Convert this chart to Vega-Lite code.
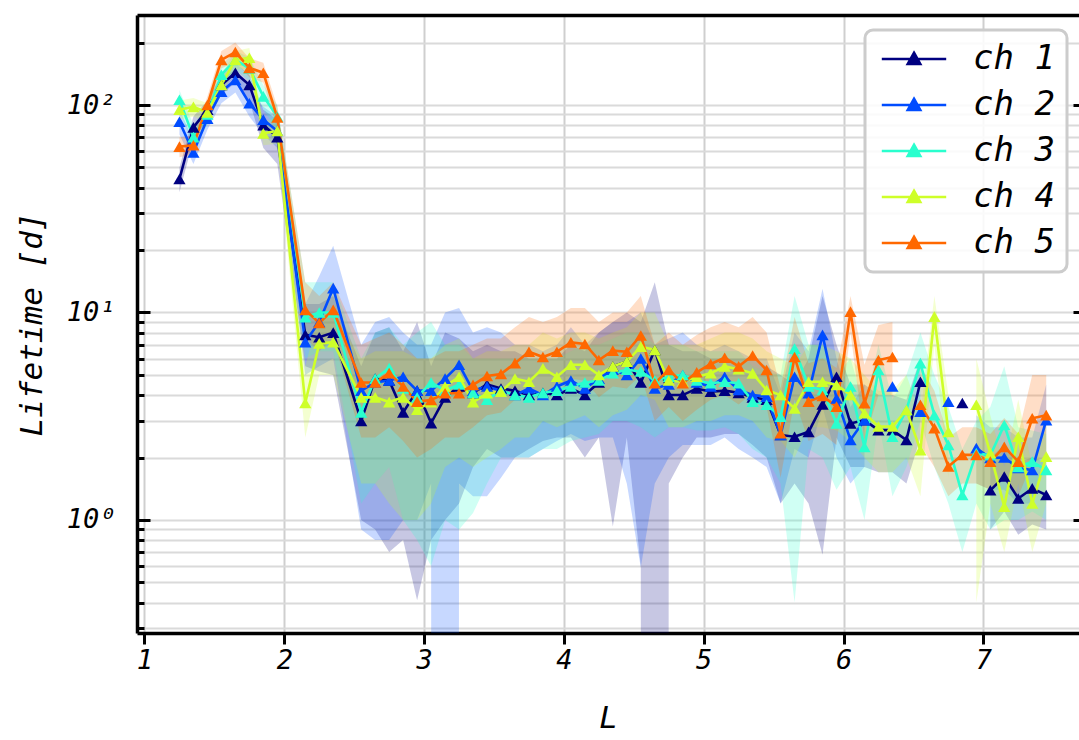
{
"$schema":"https://vega.github.io/schema/vega-lite/v6.json",
"width":942,"height":618,"autosize":"none",
"padding":{"left":137,"top":15,"right":0,"bottom":107},
"config":{"view":{"stroke":null},"font":"DejaVu Sans Mono",
"legend":{"orient":"none","legendX":728,"legendY":15,"title":null,"symbolType":"M-2.3,0L2.3,0M0,-0.45L0.45,0.35L-0.45,0.35Z","symbolSize":784,"symbolStrokeWidth":2.5,"symbolOpacity":1,"labelFont":"DejaVu Sans Mono","labelFontStyle":"italic","labelFontSize":34,"labelColor":"black","labelOffset":42,"symbolOffset":20,"padding":12,"rowPadding":12,"strokeColor":"#cccccc","strokeWidth":3,"cornerRadius":8,"fillColor":"rgba(255,255,255,0.85)"}},
"data":{"values":[
{"ch":"ch 1","L":1.25,"v":44,"lo":38,"hi":50},{"ch":"ch 1","L":1.35,"v":78,"lo":68,"hi":88},{"ch":"ch 1","L":1.45,"v":95,"lo":85,"hi":105},{"ch":"ch 1","L":1.55,"v":125,"lo":112,"hi":140},{"ch":"ch 1","L":1.65,"v":143,"lo":128,"hi":160},{"ch":"ch 1","L":1.75,"v":125,"lo":105,"hi":140},{"ch":"ch 1","L":1.85,"v":80,"lo":62,"hi":95},{"ch":"ch 1","L":1.95,"v":70,"lo":52,"hi":85},
{"ch":"ch 1","L":2.15,"v":7.8,"lo":5.5,"hi":11},{"ch":"ch 1","L":2.25,"v":7.6,"lo":5.2,"hi":11},{"ch":"ch 1","L":2.35,"v":8.0,"lo":5.0,"hi":12},{"ch":"ch 1","L":2.55,"v":3.0,"lo":1.0,"hi":5.5},{"ch":"ch 1","L":2.65,"v":4.8,"lo":0.9,"hi":8},{"ch":"ch 1","L":2.75,"v":4.7,"lo":0.7,"hi":8.5},{"ch":"ch 1","L":2.85,"v":3.3,"lo":0.8,"hi":6.5},{"ch":"ch 1","L":2.95,"v":4.2,"lo":0.41,"hi":9},{"ch":"ch 1","L":3.05,"v":2.93,"lo":0.8,"hi":5.5},{"ch":"ch 1","L":3.15,"v":3.9,"lo":1.0,"hi":8},{"ch":"ch 1","L":3.25,"v":4.4,"lo":1.2,"hi":7.5},{"ch":"ch 1","L":3.35,"v":4.1,"lo":1.8,"hi":6.5},{"ch":"ch 1","L":3.45,"v":4.5,"lo":2.2,"hi":7},{"ch":"ch 1","L":3.55,"v":4.3,"lo":2.0,"hi":6.5},{"ch":"ch 1","L":3.65,"v":4.2,"lo":2.0,"hi":6.5},{"ch":"ch 1","L":3.75,"v":4.0,"lo":2.2,"hi":6},{"ch":"ch 1","L":3.85,"v":4.1,"lo":2.4,"hi":6},{"ch":"ch 1","L":3.95,"v":4.0,"lo":2.5,"hi":6},{"ch":"ch 1","L":4.05,"v":4.3,"lo":2.5,"hi":7},{"ch":"ch 1","L":4.15,"v":4.0,"lo":2.0,"hi":6.5},{"ch":"ch 1","L":4.25,"v":4.6,"lo":2.5,"hi":8},{"ch":"ch 1","L":4.35,"v":5.5,"lo":0.93,"hi":9},{"ch":"ch 1","L":4.45,"v":5.8,"lo":2.5,"hi":10},{"ch":"ch 1","L":4.55,"v":4.6,"lo":0.6,"hi":9},{"ch":"ch 1","L":4.65,"v":6.6,"lo":1e-100,"hi":14},{"ch":"ch 1","L":4.75,"v":4.0,"lo":1.5,"hi":7},{"ch":"ch 1","L":4.85,"v":4.0,"lo":2.0,"hi":6.5},{"ch":"ch 1","L":4.95,"v":4.3,"lo":2.5,"hi":6.5},{"ch":"ch 1","L":5.05,"v":4.15,"lo":2.5,"hi":6},{"ch":"ch 1","L":5.15,"v":4.2,"lo":2.6,"hi":6},{"ch":"ch 1","L":5.25,"v":4.1,"lo":2.6,"hi":6},{"ch":"ch 1","L":5.35,"v":3.9,"lo":2.3,"hi":6},{"ch":"ch 1","L":5.45,"v":3.8,"lo":2.0,"hi":5.5},{"ch":"ch 1","L":5.55,"v":2.57,"lo":1.2,"hi":5},{"ch":"ch 1","L":5.65,"v":2.52,"lo":1.5,"hi":4.5},{"ch":"ch 1","L":5.75,"v":2.66,"lo":1.2,"hi":6},{"ch":"ch 1","L":5.85,"v":3.6,"lo":0.68,"hi":12},{"ch":"ch 1","L":5.95,"v":4.9,"lo":2.5,"hi":7},{"ch":"ch 1","L":6.05,"v":2.92,"lo":1.8,"hi":4.5},{"ch":"ch 1","L":6.15,"v":3.03,"lo":1.8,"hi":4.5},{"ch":"ch 1","L":6.25,"v":2.71,"lo":1.7,"hi":4},{"ch":"ch 1","L":6.35,"v":2.71,"lo":1.7,"hi":4},{"ch":"ch 1","L":6.45,"v":2.43,"lo":1.5,"hi":3.8},{"ch":"ch 1","L":6.55,"v":4.64,"lo":2.5,"hi":6},{"ch":"ch 1","L":6.65,"v":null,"lo":null,"hi":null},{"ch":"ch 1","L":6.75,"v":null,"lo":null,"hi":null},{"ch":"ch 1","L":6.85,"v":3.66,"lo":null,"hi":null},{"ch":"ch 1","L":6.95,"v":null,"lo":null,"hi":null},{"ch":"ch 1","L":7.05,"v":1.39,"lo":0.9,"hi":2},{"ch":"ch 1","L":7.15,"v":1.62,"lo":1.1,"hi":2.3},{"ch":"ch 1","L":7.25,"v":1.27,"lo":0.85,"hi":1.9},{"ch":"ch 1","L":7.35,"v":1.42,"lo":0.95,"hi":2.0},{"ch":"ch 1","L":7.45,"v":1.32,"lo":0.9,"hi":1.9},
{"ch":"ch 2","L":1.25,"v":83,"lo":72,"hi":95},{"ch":"ch 2","L":1.35,"v":59,"lo":52,"hi":68},{"ch":"ch 2","L":1.45,"v":86,"lo":76,"hi":98},{"ch":"ch 2","L":1.55,"v":116,"lo":102,"hi":130},{"ch":"ch 2","L":1.65,"v":132,"lo":115,"hi":150},{"ch":"ch 2","L":1.75,"v":102,"lo":88,"hi":118},{"ch":"ch 2","L":1.85,"v":85,"lo":72,"hi":98},{"ch":"ch 2","L":1.95,"v":75,"lo":62,"hi":88},
{"ch":"ch 2","L":2.15,"v":7.2,"lo":5,"hi":11},{"ch":"ch 2","L":2.25,"v":9.0,"lo":5.5,"hi":15},{"ch":"ch 2","L":2.35,"v":13.1,"lo":6,"hi":21},{"ch":"ch 2","L":2.55,"v":4.2,"lo":0.9,"hi":7},{"ch":"ch 2","L":2.65,"v":4.6,"lo":0.8,"hi":9},{"ch":"ch 2","L":2.75,"v":4.7,"lo":0.8,"hi":9.5},{"ch":"ch 2","L":2.85,"v":4.9,"lo":1.0,"hi":8},{"ch":"ch 2","L":2.95,"v":4.2,"lo":1.0,"hi":7},{"ch":"ch 2","L":3.05,"v":4.2,"lo":1.5,"hi":7},{"ch":"ch 2","L":3.15,"v":4.8,"lo":1e-100,"hi":10},{"ch":"ch 2","L":3.25,"v":5.6,"lo":1.5,"hi":10.5},{"ch":"ch 2","L":3.35,"v":4.2,"lo":1.3,"hi":8},{"ch":"ch 2","L":3.45,"v":4.4,"lo":1.3,"hi":8.5},{"ch":"ch 2","L":3.55,"v":4.2,"lo":1.6,"hi":8},{"ch":"ch 2","L":3.65,"v":4.0,"lo":2.0,"hi":7},{"ch":"ch 2","L":3.75,"v":4.3,"lo":2.0,"hi":7},{"ch":"ch 2","L":3.85,"v":4.0,"lo":2.2,"hi":6.5},{"ch":"ch 2","L":3.95,"v":4.4,"lo":2.4,"hi":7},{"ch":"ch 2","L":4.05,"v":4.7,"lo":2.6,"hi":8.5},{"ch":"ch 2","L":4.15,"v":4.3,"lo":2.4,"hi":7},{"ch":"ch 2","L":4.25,"v":4.8,"lo":2.5,"hi":8},{"ch":"ch 2","L":4.35,"v":5.3,"lo":2.5,"hi":9},{"ch":"ch 2","L":4.45,"v":5.0,"lo":1.5,"hi":9},{"ch":"ch 2","L":4.55,"v":6.0,"lo":0.59,"hi":10},{"ch":"ch 2","L":4.65,"v":4.3,"lo":1.5,"hi":7},{"ch":"ch 2","L":4.75,"v":4.5,"lo":2.0,"hi":7.5},{"ch":"ch 2","L":4.85,"v":5.0,"lo":2.3,"hi":8},{"ch":"ch 2","L":4.95,"v":4.6,"lo":2.3,"hi":7},{"ch":"ch 2","L":5.05,"v":4.4,"lo":2.3,"hi":6.5},{"ch":"ch 2","L":5.15,"v":4.9,"lo":2.5,"hi":7},{"ch":"ch 2","L":5.25,"v":4.23,"lo":2.2,"hi":6.5},{"ch":"ch 2","L":5.35,"v":4.0,"lo":2.0,"hi":6},{"ch":"ch 2","L":5.45,"v":3.93,"lo":1.8,"hi":6},{"ch":"ch 2","L":5.55,"v":2.57,"lo":1.2,"hi":4},{"ch":"ch 2","L":5.65,"v":4.9,"lo":2.2,"hi":8},{"ch":"ch 2","L":5.75,"v":4.08,"lo":2.0,"hi":6.5},{"ch":"ch 2","L":5.85,"v":7.8,"lo":3.5,"hi":13},{"ch":"ch 2","L":5.95,"v":3.85,"lo":2.0,"hi":6},{"ch":"ch 2","L":6.05,"v":2.43,"lo":1.5,"hi":3.5},{"ch":"ch 2","L":6.15,"v":3.03,"lo":1.8,"hi":4.5},{"ch":"ch 2","L":6.25,"v":null,"lo":null,"hi":null},{"ch":"ch 2","L":6.35,"v":4.4,"lo":null,"hi":null},{"ch":"ch 2","L":6.45,"v":null,"lo":null,"hi":null},{"ch":"ch 2","L":6.55,"v":3.33,"lo":null,"hi":null},{"ch":"ch 2","L":6.65,"v":null,"lo":null,"hi":null},{"ch":"ch 2","L":6.75,"v":3.72,"lo":null,"hi":null},{"ch":"ch 2","L":6.85,"v":null,"lo":null,"hi":null},{"ch":"ch 2","L":6.95,"v":2.22,"lo":1.5,"hi":3.2},{"ch":"ch 2","L":7.05,"v":1.99,"lo":1.4,"hi":2.8},{"ch":"ch 2","L":7.15,"v":2.0,"lo":1.4,"hi":2.8},{"ch":"ch 2","L":7.25,"v":1.78,"lo":1.2,"hi":2.5},{"ch":"ch 2","L":7.35,"v":1.74,"lo":1.2,"hi":2.5},{"ch":"ch 2","L":7.45,"v":3.03,"lo":2.0,"hi":4.5},
{"ch":"ch 3","L":1.25,"v":106,"lo":95,"hi":118},{"ch":"ch 3","L":1.35,"v":70,"lo":62,"hi":80},{"ch":"ch 3","L":1.45,"v":90,"lo":80,"hi":100},{"ch":"ch 3","L":1.55,"v":140,"lo":125,"hi":155},{"ch":"ch 3","L":1.65,"v":165,"lo":148,"hi":182},{"ch":"ch 3","L":1.75,"v":150,"lo":130,"hi":170},{"ch":"ch 3","L":1.85,"v":110,"lo":95,"hi":125},{"ch":"ch 3","L":1.95,"v":88,"lo":75,"hi":100},
{"ch":"ch 3","L":2.15,"v":9.5,"lo":6,"hi":14},{"ch":"ch 3","L":2.25,"v":10,"lo":6.5,"hi":14},{"ch":"ch 3","L":2.35,"v":10,"lo":6.5,"hi":14},{"ch":"ch 3","L":2.55,"v":3.3,"lo":1.2,"hi":6},{"ch":"ch 3","L":2.65,"v":4.8,"lo":1.5,"hi":8},{"ch":"ch 3","L":2.75,"v":5.4,"lo":1.8,"hi":8.5},{"ch":"ch 3","L":2.85,"v":4.3,"lo":1.0,"hi":7},{"ch":"ch 3","L":2.95,"v":3.9,"lo":0.8,"hi":8},{"ch":"ch 3","L":3.05,"v":4.6,"lo":0.6,"hi":9},{"ch":"ch 3","L":3.15,"v":4.2,"lo":1.0,"hi":7},{"ch":"ch 3","L":3.25,"v":4.5,"lo":0.9,"hi":7},{"ch":"ch 3","L":3.35,"v":4.1,"lo":1.08,"hi":6},{"ch":"ch 3","L":3.45,"v":3.8,"lo":1.5,"hi":6},{"ch":"ch 3","L":3.55,"v":4.2,"lo":2.0,"hi":6},{"ch":"ch 3","L":3.65,"v":4.0,"lo":2.0,"hi":6},{"ch":"ch 3","L":3.75,"v":3.9,"lo":2.0,"hi":6},{"ch":"ch 3","L":3.85,"v":4.1,"lo":2.2,"hi":6},{"ch":"ch 3","L":3.95,"v":4.2,"lo":2.2,"hi":6},{"ch":"ch 3","L":4.05,"v":4.4,"lo":2.4,"hi":6.5},{"ch":"ch 3","L":4.15,"v":4.6,"lo":2.5,"hi":7},{"ch":"ch 3","L":4.25,"v":4.7,"lo":2.6,"hi":7},{"ch":"ch 3","L":4.35,"v":5.1,"lo":3.0,"hi":7.5},{"ch":"ch 3","L":4.45,"v":5.3,"lo":3.0,"hi":8},{"ch":"ch 3","L":4.55,"v":5.2,"lo":2.8,"hi":8},{"ch":"ch 3","L":4.65,"v":4.7,"lo":2.5,"hi":7},{"ch":"ch 3","L":4.75,"v":4.9,"lo":2.8,"hi":7},{"ch":"ch 3","L":4.85,"v":5.0,"lo":2.8,"hi":7},{"ch":"ch 3","L":4.95,"v":4.7,"lo":2.7,"hi":6.5},{"ch":"ch 3","L":5.05,"v":4.56,"lo":2.7,"hi":6.5},{"ch":"ch 3","L":5.15,"v":4.64,"lo":2.8,"hi":6.5},{"ch":"ch 3","L":5.25,"v":4.56,"lo":2.6,"hi":6.5},{"ch":"ch 3","L":5.35,"v":3.72,"lo":2.2,"hi":5.5},{"ch":"ch 3","L":5.45,"v":3.59,"lo":2.0,"hi":5.2},{"ch":"ch 3","L":5.55,"v":3.15,"lo":1.5,"hi":5},{"ch":"ch 3","L":5.65,"v":6.7,"lo":0.4,"hi":12},{"ch":"ch 3","L":5.75,"v":4.4,"lo":2.2,"hi":7},{"ch":"ch 3","L":5.85,"v":4.23,"lo":2.0,"hi":7},{"ch":"ch 3","L":5.95,"v":2.92,"lo":1.4,"hi":5},{"ch":"ch 3","L":6.05,"v":4.4,"lo":1.8,"hi":6},{"ch":"ch 3","L":6.15,"v":2.25,"lo":1.0,"hi":3.5},{"ch":"ch 3","L":6.25,"v":5.28,"lo":3.0,"hi":7},{"ch":"ch 3","L":6.35,"v":2.52,"lo":1.3,"hi":3.8},{"ch":"ch 3","L":6.45,"v":3.39,"lo":1.8,"hi":5},{"ch":"ch 3","L":6.55,"v":5.7,"lo":3.0,"hi":8},{"ch":"ch 3","L":6.65,"v":3.2,"lo":1.8,"hi":5},{"ch":"ch 3","L":6.75,"v":2.3,"lo":1.2,"hi":3.5},{"ch":"ch 3","L":6.85,"v":1.32,"lo":0.7,"hi":2.2},{"ch":"ch 3","L":6.95,"v":2.1,"lo":1.2,"hi":3.0},{"ch":"ch 3","L":7.05,"v":2.05,"lo":0.9,"hi":3.5},{"ch":"ch 3","L":7.15,"v":2.87,"lo":1.0,"hi":5.5},{"ch":"ch 3","L":7.25,"v":1.8,"lo":1.0,"hi":2.8},{"ch":"ch 3","L":7.35,"v":1.91,"lo":1.1,"hi":2.7},{"ch":"ch 3","L":7.45,"v":1.74,"lo":1.0,"hi":2.6},
{"ch":"ch 4","L":1.25,"v":95,"lo":85,"hi":105},{"ch":"ch 4","L":1.35,"v":98,"lo":88,"hi":108},{"ch":"ch 4","L":1.45,"v":92,"lo":82,"hi":102},{"ch":"ch 4","L":1.55,"v":125,"lo":112,"hi":140},{"ch":"ch 4","L":1.65,"v":165,"lo":148,"hi":182},{"ch":"ch 4","L":1.75,"v":169,"lo":150,"hi":188},{"ch":"ch 4","L":1.85,"v":73,"lo":64,"hi":84},{"ch":"ch 4","L":1.95,"v":75,"lo":65,"hi":86},
{"ch":"ch 4","L":2.15,"v":3.66,"lo":2.5,"hi":5.5},{"ch":"ch 4","L":2.25,"v":7.1,"lo":5,"hi":10},{"ch":"ch 4","L":2.35,"v":7.2,"lo":5,"hi":10},{"ch":"ch 4","L":2.55,"v":3.9,"lo":1.5,"hi":6},{"ch":"ch 4","L":2.65,"v":3.9,"lo":1.5,"hi":6.5},{"ch":"ch 4","L":2.75,"v":3.7,"lo":1.2,"hi":6.5},{"ch":"ch 4","L":2.85,"v":3.9,"lo":1.0,"hi":6.5},{"ch":"ch 4","L":2.95,"v":3.4,"lo":1.0,"hi":6},{"ch":"ch 4","L":3.05,"v":3.7,"lo":1.2,"hi":6},{"ch":"ch 4","L":3.15,"v":4.4,"lo":1.8,"hi":7},{"ch":"ch 4","L":3.25,"v":4.9,"lo":2.0,"hi":7.5},{"ch":"ch 4","L":3.35,"v":3.7,"lo":1.8,"hi":6},{"ch":"ch 4","L":3.45,"v":4.08,"lo":2.0,"hi":6.5},{"ch":"ch 4","L":3.55,"v":4.15,"lo":2.2,"hi":6.5},{"ch":"ch 4","L":3.65,"v":4.8,"lo":2.5,"hi":7},{"ch":"ch 4","L":3.75,"v":4.64,"lo":2.5,"hi":7},{"ch":"ch 4","L":3.85,"v":5.38,"lo":3.0,"hi":8},{"ch":"ch 4","L":3.95,"v":4.9,"lo":2.8,"hi":7.5},{"ch":"ch 4","L":4.05,"v":5.6,"lo":3.0,"hi":8},{"ch":"ch 4","L":4.15,"v":5.6,"lo":3.2,"hi":8},{"ch":"ch 4","L":4.25,"v":5.0,"lo":2.8,"hi":7.5},{"ch":"ch 4","L":4.35,"v":5.5,"lo":3.2,"hi":8},{"ch":"ch 4","L":4.45,"v":5.8,"lo":3.4,"hi":8.5},{"ch":"ch 4","L":4.55,"v":6.85,"lo":4.0,"hi":10},{"ch":"ch 4","L":4.65,"v":6.6,"lo":3.8,"hi":10},{"ch":"ch 4","L":4.75,"v":4.7,"lo":2.8,"hi":7},{"ch":"ch 4","L":4.85,"v":4.64,"lo":2.8,"hi":7},{"ch":"ch 4","L":4.95,"v":4.9,"lo":3.0,"hi":7},{"ch":"ch 4","L":5.05,"v":5.1,"lo":3.0,"hi":7.5},{"ch":"ch 4","L":5.15,"v":5.5,"lo":3.2,"hi":8},{"ch":"ch 4","L":5.25,"v":5.33,"lo":3.2,"hi":8},{"ch":"ch 4","L":5.35,"v":5.09,"lo":3.0,"hi":7.5},{"ch":"ch 4","L":5.45,"v":4.23,"lo":2.5,"hi":6.5},{"ch":"ch 4","L":5.55,"v":4.0,"lo":2.4,"hi":6},{"ch":"ch 4","L":5.65,"v":3.45,"lo":2.0,"hi":5.5},{"ch":"ch 4","L":5.75,"v":4.64,"lo":2.8,"hi":7},{"ch":"ch 4","L":5.85,"v":4.64,"lo":2.8,"hi":7},{"ch":"ch 4","L":5.95,"v":4.47,"lo":2.7,"hi":6.5},{"ch":"ch 4","L":6.05,"v":4.0,"lo":2.4,"hi":6},{"ch":"ch 4","L":6.15,"v":3.27,"lo":2.0,"hi":5},{"ch":"ch 4","L":6.25,"v":2.82,"lo":1.7,"hi":4.2},{"ch":"ch 4","L":6.35,"v":2.82,"lo":1.7,"hi":4.2},{"ch":"ch 4","L":6.45,"v":3.39,"lo":2.0,"hi":5},{"ch":"ch 4","L":6.55,"v":2.17,"lo":1.3,"hi":3.2},{"ch":"ch 4","L":6.65,"v":9.55,"lo":7,"hi":12},{"ch":"ch 4","L":6.75,"v":2.66,"lo":1.6,"hi":4},{"ch":"ch 4","L":6.85,"v":null,"lo":null,"hi":null},{"ch":"ch 4","L":6.95,"v":3.59,"lo":0.4,"hi":6},{"ch":"ch 4","L":7.05,"v":2.1,"lo":1.2,"hi":3.2},{"ch":"ch 4","L":7.15,"v":1.16,"lo":0.7,"hi":1.8},{"ch":"ch 4","L":7.25,"v":2.52,"lo":1.5,"hi":3.8},{"ch":"ch 4","L":7.35,"v":1.2,"lo":0.7,"hi":1.8},{"ch":"ch 4","L":7.45,"v":2.02,"lo":1.2,"hi":3},
{"ch":"ch 5","L":1.25,"v":63,"lo":56,"hi":70},{"ch":"ch 5","L":1.35,"v":64,"lo":58,"hi":71},{"ch":"ch 5","L":1.45,"v":100,"lo":90,"hi":110},{"ch":"ch 5","L":1.55,"v":165,"lo":150,"hi":182},{"ch":"ch 5","L":1.65,"v":180,"lo":162,"hi":200},{"ch":"ch 5","L":1.75,"v":151,"lo":136,"hi":168},{"ch":"ch 5","L":1.85,"v":143,"lo":128,"hi":160},{"ch":"ch 5","L":1.95,"v":87,"lo":76,"hi":98},
{"ch":"ch 5","L":2.15,"v":10.3,"lo":7.5,"hi":14},{"ch":"ch 5","L":2.25,"v":8.9,"lo":6.5,"hi":12},{"ch":"ch 5","L":2.35,"v":10.3,"lo":7.5,"hi":14},{"ch":"ch 5","L":2.55,"v":4.6,"lo":2.5,"hi":7},{"ch":"ch 5","L":2.65,"v":4.6,"lo":2.5,"hi":7.5},{"ch":"ch 5","L":2.75,"v":5.1,"lo":2.8,"hi":8},{"ch":"ch 5","L":2.85,"v":4.4,"lo":2.4,"hi":7},{"ch":"ch 5","L":2.95,"v":3.72,"lo":2.0,"hi":6},{"ch":"ch 5","L":3.05,"v":3.79,"lo":2.2,"hi":6},{"ch":"ch 5","L":3.15,"v":4.08,"lo":2.5,"hi":6.5},{"ch":"ch 5","L":3.25,"v":4.08,"lo":2.5,"hi":6.5},{"ch":"ch 5","L":3.35,"v":4.48,"lo":2.8,"hi":7},{"ch":"ch 5","L":3.45,"v":4.94,"lo":3.2,"hi":7.5},{"ch":"ch 5","L":3.55,"v":5.05,"lo":3.3,"hi":7.5},{"ch":"ch 5","L":3.65,"v":5.7,"lo":3.8,"hi":8.5},{"ch":"ch 5","L":3.75,"v":6.47,"lo":4.3,"hi":9.5},{"ch":"ch 5","L":3.85,"v":6.1,"lo":4.0,"hi":9},{"ch":"ch 5","L":3.95,"v":6.47,"lo":4.3,"hi":9.5},{"ch":"ch 5","L":4.05,"v":7.18,"lo":4.8,"hi":10.5},{"ch":"ch 5","L":4.15,"v":7.05,"lo":4.7,"hi":10.5},{"ch":"ch 5","L":4.25,"v":5.9,"lo":3.9,"hi":9},{"ch":"ch 5","L":4.35,"v":6.55,"lo":4.4,"hi":10},{"ch":"ch 5","L":4.45,"v":6.47,"lo":4.3,"hi":10},{"ch":"ch 5","L":4.55,"v":7.75,"lo":5.0,"hi":12},{"ch":"ch 5","L":4.65,"v":4.56,"lo":3.0,"hi":7},{"ch":"ch 5","L":4.75,"v":5.29,"lo":3.5,"hi":8},{"ch":"ch 5","L":4.85,"v":4.56,"lo":3.0,"hi":7},{"ch":"ch 5","L":4.95,"v":5.15,"lo":3.4,"hi":7.8},{"ch":"ch 5","L":5.05,"v":5.65,"lo":3.8,"hi":8.5},{"ch":"ch 5","L":5.15,"v":6.05,"lo":4.0,"hi":9},{"ch":"ch 5","L":5.25,"v":5.5,"lo":3.6,"hi":8.5},{"ch":"ch 5","L":5.35,"v":6.2,"lo":4.1,"hi":9.5},{"ch":"ch 5","L":5.45,"v":5.28,"lo":3.5,"hi":8},{"ch":"ch 5","L":5.55,"v":2.62,"lo":1.6,"hi":4.3},{"ch":"ch 5","L":5.65,"v":6.1,"lo":3.8,"hi":9.5},{"ch":"ch 5","L":5.75,"v":3.72,"lo":2.4,"hi":5.7},{"ch":"ch 5","L":5.85,"v":3.96,"lo":2.6,"hi":6},{"ch":"ch 5","L":5.95,"v":3.52,"lo":2.3,"hi":5.4},{"ch":"ch 5","L":6.05,"v":10.1,"lo":8,"hi":12},{"ch":"ch 5","L":6.15,"v":3.65,"lo":2.4,"hi":5.6},{"ch":"ch 5","L":6.25,"v":5.9,"lo":4.0,"hi":8.7},{"ch":"ch 5","L":6.35,"v":6.1,"lo":4.0,"hi":9},{"ch":"ch 5","L":6.45,"v":null,"lo":null,"hi":null},{"ch":"ch 5","L":6.55,"v":3.59,"lo":2.3,"hi":5.5},{"ch":"ch 5","L":6.65,"v":2.77,"lo":1.8,"hi":4.2},{"ch":"ch 5","L":6.75,"v":1.81,"lo":1.3,"hi":2.5},{"ch":"ch 5","L":6.85,"v":2.06,"lo":1.5,"hi":2.8},{"ch":"ch 5","L":6.95,"v":2.06,"lo":1.5,"hi":2.8},{"ch":"ch 5","L":7.05,"v":1.91,"lo":1.4,"hi":2.6},{"ch":"ch 5","L":7.15,"v":2.25,"lo":1.6,"hi":3.1},{"ch":"ch 5","L":7.25,"v":1.91,"lo":1.3,"hi":2.6},{"ch":"ch 5","L":7.35,"v":3.09,"lo":1.9,"hi":5},{"ch":"ch 5","L":7.45,"v":3.2,"lo":2.0,"hi":5}
]},
"resolve":{"axis":{"x":"independent","y":"independent"}},
"layer":[
{"mark":{"type":"area","opacity":0.22,"clip":true,"invalid":"break-paths-filter-domains"},
 "encoding":{
  "x":{"field":"L","type":"quantitative","scale":{"domain":[0.9464,7.6845],"nice":false,"zero":false},
   "axis":{"orient":"bottom","values":[1,2,3,4,5,6,7],"format":"d","tickSize":11,"tickWidth":3,"tickColor":"black","domainWidth":3.5,"domainColor":"black","grid":true,"gridColor":"#cfcfcf","gridWidth":2,"labelFont":"DejaVu Sans Mono","labelFontStyle":"italic","labelFontSize":27,"labelColor":"black","labelPadding":3,"title":"L","titleFont":"DejaVu Sans Mono","titleFontStyle":"italic","titleFontWeight":"normal","titleFontSize":31,"titleColor":"black","titlePadding":30}},
  "y":{"field":"hi","type":"quantitative","scale":{"type":"log","domain":[0.2853,271.5],"nice":false},
   "axis":{"orient":"left","values":[0.3,0.4,0.5,0.6,0.7,0.8,0.9,1,2,3,4,5,6,7,8,9,10,20,30,40,50,60,70,80,90,100,200],
    "labelExpr":"datum.value==1?'10⁰':datum.value==10?'10¹':datum.value==100?'10²':''",
    "tickSize":{"condition":{"test":"datum.value==1||datum.value==10||datum.value==100","value":-13},"value":-7},
    "tickWidth":3,"tickColor":"black","domainWidth":3.5,"domainColor":"black","grid":true,"gridColor":"#dadada","gridWidth":2,
    "labelFont":"DejaVu Sans Mono","labelFontStyle":"italic","labelFontSize":27,"labelColor":"black","labelPadding":35,
    "title":"Lifetime [d]","titleFont":"DejaVu Sans Mono","titleFontStyle":"italic","titleFontWeight":"normal","titleFontSize":31,"titleColor":"black","titlePadding":18}},
  "y2":{"field":"lo"},
  "color":{"field":"ch","type":"nominal","scale":{"domain":["ch 1","ch 2","ch 3","ch 4","ch 5"],"range":["#000080","#004cff","#29ffce","#ceff29","#ff6800"]},
   "legend":{"encode":{"symbols":{"update":{"fill":{"scale":"color","field":"value"},"stroke":{"scale":"color","field":"value"},"fillOpacity":{"value":1},"strokeOpacity":{"value":1},"opacity":{"value":1}}}}}}
 }},
{"mark":{"type":"line","strokeWidth":2.6,"clip":true,"invalid":"break-paths-filter-domains"},
 "encoding":{
  "x":{"field":"L","type":"quantitative","scale":{"domain":[0.9464,7.6845],"nice":false,"zero":false},"axis":{"orient":"top","labels":false,"ticks":false,"grid":false,"domain":true,"domainWidth":3.5,"domainColor":"black","title":null}},
  "y":{"field":"v","type":"quantitative","scale":{"type":"log","domain":[0.2853,271.5],"nice":false},"axis":{"orient":"right","values":[1,10,100],"labels":false,"tickSize":-6,"tickWidth":3,"tickColor":"black","grid":false,"domain":false,"title":null}},
  "color":{"field":"ch","type":"nominal","scale":{"domain":["ch 1","ch 2","ch 3","ch 4","ch 5"],"range":["#000080","#004cff","#29ffce","#ceff29","#ff6800"]},
   "legend":{"encode":{"symbols":{"update":{"fill":{"scale":"color","field":"value"},"stroke":{"scale":"color","field":"value"},"fillOpacity":{"value":1},"strokeOpacity":{"value":1},"opacity":{"value":1}}}}}}
 }},
{"mark":{"type":"point","shape":"triangle-up","filled":true,"size":150,"opacity":1,"clip":true},
 "encoding":{
  "x":{"field":"L","type":"quantitative","axis":null},
  "y":{"field":"v","type":"quantitative","axis":null},
  "color":{"field":"ch","type":"nominal",
   "legend":{"encode":{"symbols":{"update":{"fill":{"scale":"color","field":"value"},"stroke":{"scale":"color","field":"value"},"fillOpacity":{"value":1},"strokeOpacity":{"value":1},"opacity":{"value":1}}}}}}
 }}
]
}
